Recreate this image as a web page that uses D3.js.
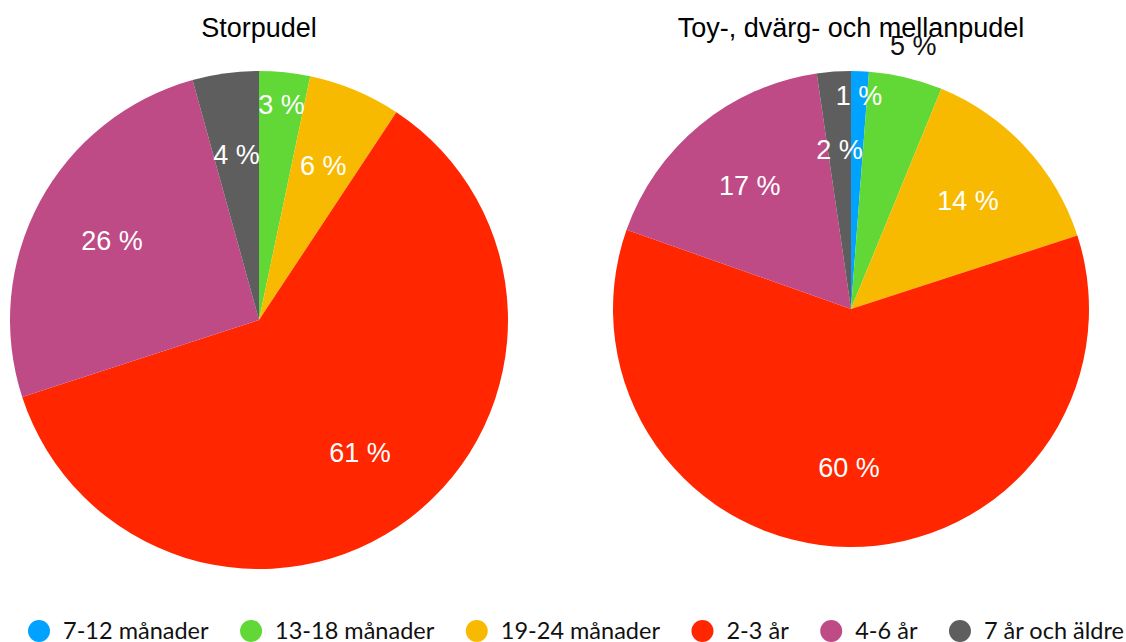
<!DOCTYPE html>
<html><head><meta charset="utf-8">
<script src="https://cdn.jsdelivr.net/npm/d3@7"></script>
<style>
html,body{margin:0;padding:0;background:#fff;}
svg{display:block;}
</style></head>
<body>
<svg id="chart" width="1126" height="642"></svg>
<script>
// ---- data ----
const categories = ["7-12 månader", "13-18 månader", "19-24 månader", "2-3 år", "4-6 år", "7 år och äldre"];
const colors = ["#00A2FF", "#61D836", "#F8BA00", "#FF2600", "#BE4A86", "#5E5E5E"];
const titles = ["Storpudel", "Toy-, dvärg- och mellanpudel"];
const storpudel = [0, 3.3, 6.0, 60.7, 25.7, 4.3];
const toyDvargMellan = [1.2, 5.0, 13.8, 60.4, 17.3, 2.3];
const seriesValues = [storpudel, toyDvargMellan];

// ---- layout ----
const layout = [
  {cx: 259, cy: 320, r: 249, titleY: 37, labelR: {1: 0.87}},
  {cx: 851, cy: 309, r: 238, titleY: 37, labelR: {0: 0.895, 1: 1.135}}
];

const svg = d3.select("#chart");
const pie = d3.pie().sort(null).value(d => d);

seriesValues.forEach((vals, ci) => {
  const L = layout[ci];
  const g = svg.append("g").attr("transform", `translate(${L.cx},${L.cy})`);
  const arcs = pie(vals);
  const arc = d3.arc().innerRadius(0).outerRadius(L.r);
  g.selectAll("path.slice").data(arcs).join("path")
    .attr("class", "slice")
    .attr("d", arc)
    .attr("fill", (d, i) => colors[i]);

  arcs.forEach((d, i) => {
    if (d.value <= 0) return;
    const f = L.labelR[i] !== undefined ? L.labelR[i] : 0.67;
    const a = (d.startAngle + d.endAngle) / 2;
    const rr = L.r * f;
    const x = rr * Math.sin(a), y = -rr * Math.cos(a);
    g.append("text")
      .attr("x", x).attr("y", y)
      .attr("text-anchor", "middle")
      .attr("dominant-baseline", "central")
      .attr("font-family", "'Liberation Sans', Arial, sans-serif")
      .attr("font-size", 27)
      .attr("fill", f > 1 ? "#111" : "#fff")
      .text(Math.round(d.value) + " %");
  });

  svg.append("text")
    .attr("x", L.cx).attr("y", L.titleY)
    .attr("text-anchor", "middle")
    .attr("font-family", "'Liberation Sans', Arial, sans-serif")
    .attr("font-size", 27)
    .attr("fill", "#000")
    .text(titles[ci]);
});

// ---- legend ----
const leg = svg.append("g");
let x = 28;
const ly = 630;
categories.forEach((c, i) => {
  leg.append("circle").attr("cx", x + 11).attr("cy", ly + 1).attr("r", 11).attr("fill", colors[i]);
  const t = leg.append("text")
    .attr("x", x + 35).attr("y", ly)
    .attr("dominant-baseline", "central")
    .attr("font-family", "Lato, 'Open Sans', sans-serif")
    .attr("font-size", 23.5)
    .attr("fill", "#111")
    .text(c);
  const w = t.node().getComputedTextLength();
  x = x + 35 + w + 31.5;
});
</script>
</body></html>
